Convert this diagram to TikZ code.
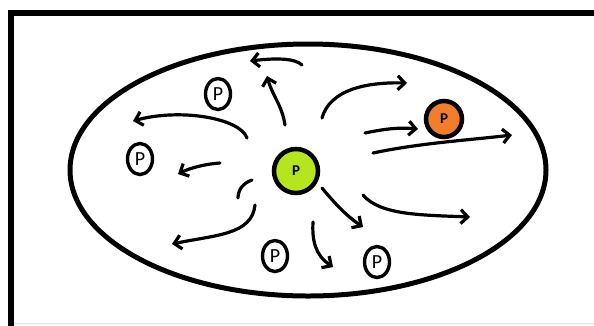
\documentclass[tikz,border=0pt]{standalone}
\usepackage{fontspec}
\setmainfont{Carlito}
\usetikzlibrary{arrows.meta, shapes.geometric}
\definecolor{lime}{HTML}{B5E61D}
\definecolor{tangerine}{HTML}{F27E2C}
\tikzset{
  x=1pt, y=-1pt, % one unit is one pixel, origin top left
  flow/.style={line width=3.2pt, line cap=round,
    -{Straight Barb[length=7pt,width=14pt]}}, % the hand drawn arrows
  cell/.style={draw, ellipse, line width=5pt, inner sep=0pt,
    minimum width=476pt, minimum height=252pt}, % the big oval
}

\begin{document}
\begin{tikzpicture}[proton/.style={draw, ellipse, line width=3.4pt, inner sep=0pt,
    minimum width=25pt, minimum height=31pt, font=\fontsize{20}{20}\selectfont},
  core/.style={draw, circle, line width=4.5pt, inner sep=0pt,
    font=\bfseries\fontsize{15}{15}\selectfont}]
  \useasboundingbox (0,0) rectangle (594,325);
  \clip (0,0) rectangle (594,325);
  % frame, cut off on the right and bottom
  \draw[line width=5.5pt] (11,340) -- (11,13) -- (610,13);
  \draw[gray!25, line width=1.5pt] (14,323.5) -- (600,323.5);

  \node[cell] (cell) at (308,170) {};
  \node[core, fill=lime, minimum size=44pt] (green) at (296,171) {P};
  \node[core, fill=tangerine, minimum size=36pt] (orange) at (444,119) {P};

  \node[proton] (pa) at (218,94) {P};
  \node[proton] (pb) at (140,159) {P};
  \node[proton] (pc) at (275,256) {P};
  \node[proton] (pd) at (377,262) {P};

  % arrows spreading out from the green one
  \draw[flow] (302,65) .. controls (295,58) and (275,58) .. (250,61);
  \draw[flow] (285,125) .. controls (282,105) and (272,95) .. (267,76);
  \draw[flow] (247,138) .. controls (240,118) and (180,108) .. (133,121);
  \draw[flow] (220,163) .. controls (205,164) and (190,168) .. (178,174);
  \draw[line width=3.2pt, line cap=round] (252,180) .. controls (243,183) and (238,190) .. (238,198);
  \draw[flow] (255,205) .. controls (252,235) and (215,235) .. (172,244);
  \draw[flow] (313,222) .. controls (312,240) and (315,255) .. (333,267);
  \draw[flow] (322,188) .. controls (332,200) and (345,215) .. (363,227);
  \draw[flow] (363,195) .. controls (380,215) and (420,215) .. (470,217);
  \draw[flow] (373,153) .. controls (420,143) and (470,140) .. (512,135);
  \draw[flow] (365,133) .. controls (380,130) and (395,127) .. (418,129);
  \draw[flow] (322,118) .. controls (330,90) and (365,82) .. (407,83);
\end{tikzpicture}
\end{document}
